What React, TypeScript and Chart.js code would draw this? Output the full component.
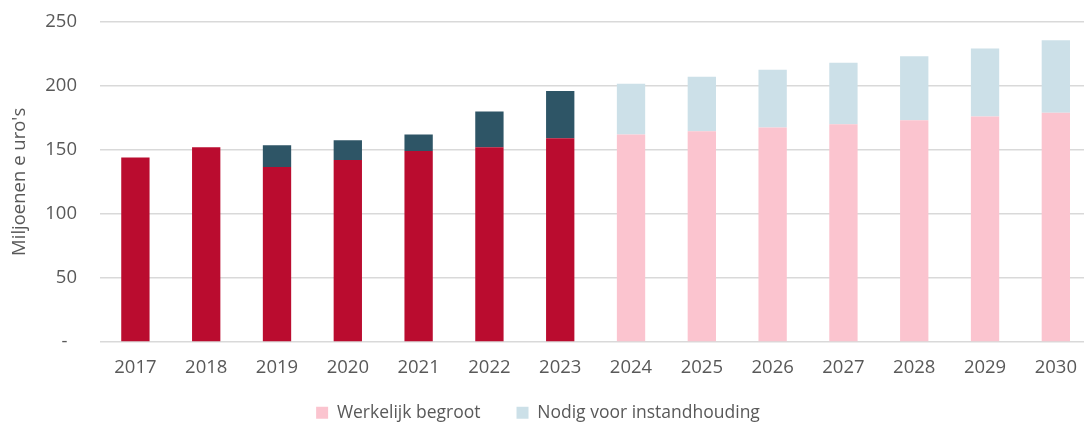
import React, { useEffect, useRef } from "react";
import { Chart, registerables } from "chart.js";

Chart.register(...registerables);

const categories = ["2017", "2018", "2019", "2020", "2021", "2022", "2023", "2024", "2025", "2026", "2027", "2028", "2029", "2030"];
const werkelijkBegroot = [144, 152, 136.5, 142, 149, 152, 159, 162, 164.5, 167.5, 170, 173, 176, 179];
const nodigVoorInstandhouding = [null, null, 17, 15.5, 13, 28, 37, 39.5, 42.5, 45, 48, 50, 53, 56.5];
const yTicks = [0, 50, 100, 150, 200, 250];
const firstForecastIndex = 7;

const RED = "#BA0C2F";
const PINK = "#FBC4CF";
const TEAL = "#2E5566";
const LIGHTBLUE = "#CCE0E8";
const TEXT = "#595959";

const legendShift = {
  id: "legendShift",
  afterLayout(chart: any) {
    const lg = chart.legend;
    if (lg) {
      lg.top -= 12;
      lg.left -= 8;
      lg.right -= 8;
    }
  },
};

export default function App() {
  const ref = useRef<HTMLCanvasElement | null>(null);
  useEffect(() => {
    if (!ref.current) return;
    const chart = new Chart(ref.current, {
      type: "bar",
      plugins: [legendShift],
      data: {
        labels: categories,
        datasets: [
          {
            label: "Werkelijk begroot",
            data: werkelijkBegroot,
            backgroundColor: categories.map((_, i) => (i < firstForecastIndex ? RED : PINK)),
            barPercentage: 0.8,
            categoryPercentage: 0.5,
            stack: "s",
          },
          {
            label: "Nodig voor instandhouding",
            data: nodigVoorInstandhouding,
            backgroundColor: categories.map((_, i) => (i < firstForecastIndex ? TEAL : LIGHTBLUE)),
            barPercentage: 0.8,
            categoryPercentage: 0.5,
            stack: "s",
          },
        ],
      },
      options: {
        responsive: false,
        animation: false,
        layout: { padding: { top: 21.7, left: 0, right: 0, bottom: 0 } },
        scales: {
          x: {
            stacked: true,
            grid: { display: false, drawTicks: false },
            border: { display: false },
            ticks: { color: TEXT, font: { family: "Open Sans", size: 18.5 }, padding: 15 },
            afterFit: (scale: any) => {
              scale.height = 38;
            },
          },
          y: {
            stacked: true,
            min: 0,
            max: 250,
            afterBuildTicks: (scale: any) => {
              scale.ticks = yTicks.map((v) => ({ value: v }));
            },
            afterFit: (scale: any) => {
              scale.width = 100;
            },
            grid: { color: "#D9D9D9", lineWidth: 1.5, drawTicks: true, tickLength: 23, tickColor: "rgba(0,0,0,0)" },
            border: { display: false },
            ticks: {
              color: TEXT,
              font: { family: "Open Sans", size: 18.5 },
              padding: 0,
              callback: (v: any) => (Number(v) === 0 ? "-  " : String(v)),
            },
            title: {
              display: true,
              text: "Miljoenen e uro's",
              color: TEXT,
              font: { family: "Open Sans", size: 18.5 },
              padding: { top: 9, bottom: 0 },
            },
          },
        },
        plugins: {
          tooltip: { enabled: false },
          legend: {
            position: "bottom",
            maxHeight: 45,
            labels: {
              color: TEXT,
              font: { family: "Open Sans", size: 17.5 },
              boxWidth: 12,
              boxHeight: 12,
              padding: 36,
              generateLabels: () => [
                { text: "Werkelijk begroot", fillStyle: PINK, strokeStyle: PINK, lineWidth: 0, fontColor: TEXT, datasetIndex: 0 },
                { text: "Nodig voor instandhouding", fillStyle: LIGHTBLUE, strokeStyle: LIGHTBLUE, lineWidth: 0, fontColor: TEXT, datasetIndex: 1 },
              ],
            },
          },
        },
      },
    });
    return () => chart.destroy();
  }, []);
  return (
    <div style={{ position: "fixed", left: 0, top: 0, width: 1084, height: 425, overflow: "hidden", background: "#fff" }}>
      <canvas ref={ref} width={1092} height={425} style={{ display: "block" }} />
    </div>
  );
}
